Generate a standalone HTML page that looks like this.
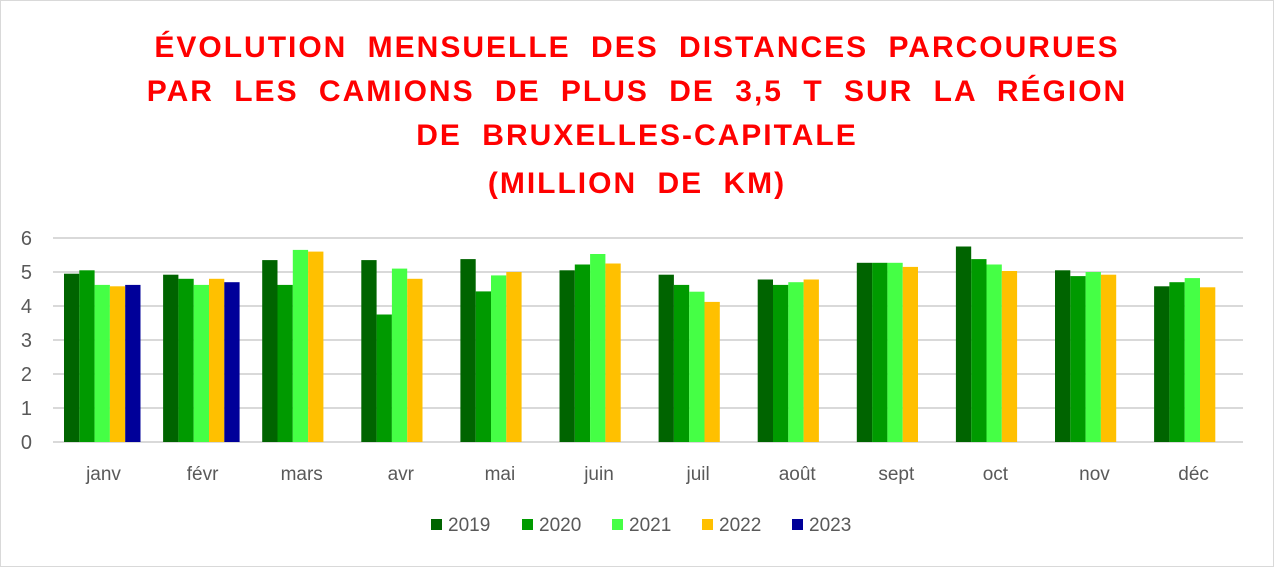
<!DOCTYPE html>
<html><head><meta charset="utf-8"><style>
html,body{margin:0;padding:0;background:#fff}
svg{display:block}
text{font-family:"Liberation Sans",sans-serif}
</style></head><body>
<svg width="1274" height="567" viewBox="0 0 1274 567" xmlns="http://www.w3.org/2000/svg">
<rect x="0.5" y="0.5" width="1273" height="566" fill="#fff" stroke="#d9d9d9"/>
<g fill="#ff0000" font-weight="bold" font-size="30" text-anchor="middle" letter-spacing="2" word-spacing="10">
<text x="637" y="57">ÉVOLUTION MENSUELLE DES DISTANCES PARCOURUES</text>
<text x="637" y="101">PAR LES CAMIONS DE PLUS DE 3,5 T SUR LA RÉGION</text>
<text x="637" y="145">DE BRUXELLES-CAPITALE</text>
<text x="637" y="193">(MILLION DE KM)</text>
</g>
<g stroke="#d9d9d9" stroke-width="2">
<line x1="53" x2="1243" y1="238" y2="238"/><line x1="53" x2="1243" y1="272" y2="272"/>
<line x1="53" x2="1243" y1="306" y2="306"/><line x1="53" x2="1243" y1="340" y2="340"/>
<line x1="53" x2="1243" y1="374" y2="374"/><line x1="53" x2="1243" y1="408" y2="408"/>
<line x1="53" x2="1243" y1="442" y2="442"/>
</g>
<g fill="#595959" font-size="20" text-anchor="end">
<text x="32" y="245">6</text><text x="32" y="279">5</text><text x="32" y="313">4</text>
<text x="32" y="347">3</text><text x="32" y="381">2</text><text x="32" y="415">1</text><text x="32" y="449">0</text>
</g>
<g fill="#006400">
<rect x="64" y="273.7" width="15.3" height="168.3"/>
<rect x="163.1" y="274.7" width="15.3" height="167.3"/>
<rect x="262.2" y="260.1" width="15.3" height="181.9"/>
<rect x="361.3" y="260.1" width="15.3" height="181.9"/>
<rect x="460.4" y="259.1" width="15.3" height="182.9"/>
<rect x="559.5" y="270.3" width="15.3" height="171.7"/>
<rect x="658.6" y="274.7" width="15.3" height="167.3"/>
<rect x="757.7" y="279.5" width="15.3" height="162.5"/>
<rect x="856.8" y="262.8" width="15.3" height="179.2"/>
<rect x="955.9" y="246.5" width="15.3" height="195.5"/>
<rect x="1055" y="270.3" width="15.3" height="171.7"/>
<rect x="1154.1" y="286.3" width="15.3" height="155.7"/>
</g>
<g fill="#009a00">
<rect x="79.3" y="270.3" width="15.3" height="171.7"/>
<rect x="178.4" y="278.8" width="15.3" height="163.2"/>
<rect x="277.5" y="284.9" width="15.3" height="157.1"/>
<rect x="376.6" y="314.5" width="15.3" height="127.5"/>
<rect x="475.7" y="291.4" width="15.3" height="150.6"/>
<rect x="574.8" y="264.5" width="15.3" height="177.5"/>
<rect x="673.9" y="284.9" width="15.3" height="157.1"/>
<rect x="773" y="284.9" width="15.3" height="157.1"/>
<rect x="872.1" y="262.8" width="15.3" height="179.2"/>
<rect x="971.2" y="259.1" width="15.3" height="182.9"/>
<rect x="1070.3" y="276.1" width="15.3" height="165.9"/>
<rect x="1169.4" y="282.2" width="15.3" height="159.8"/>
</g>
<g fill="#45ff45">
<rect x="94.6" y="284.9" width="15.3" height="157.1"/>
<rect x="193.7" y="284.9" width="15.3" height="157.1"/>
<rect x="292.8" y="249.9" width="15.3" height="192.1"/>
<rect x="391.9" y="268.6" width="15.3" height="173.4"/>
<rect x="491" y="275.4" width="15.3" height="166.6"/>
<rect x="590.1" y="254" width="15.3" height="188"/>
<rect x="689.2" y="291.7" width="15.3" height="150.3"/>
<rect x="788.3" y="282.2" width="15.3" height="159.8"/>
<rect x="887.4" y="262.8" width="15.3" height="179.2"/>
<rect x="986.5" y="264.5" width="15.3" height="177.5"/>
<rect x="1085.6" y="272" width="15.3" height="170"/>
<rect x="1184.7" y="278.1" width="15.3" height="163.9"/>
</g>
<g fill="#ffc000">
<rect x="109.9" y="286.3" width="15.3" height="155.7"/>
<rect x="209" y="278.8" width="15.3" height="163.2"/>
<rect x="308.1" y="251.6" width="15.3" height="190.4"/>
<rect x="407.2" y="278.8" width="15.3" height="163.2"/>
<rect x="506.3" y="272" width="15.3" height="170"/>
<rect x="605.4" y="263.5" width="15.3" height="178.5"/>
<rect x="704.5" y="301.9" width="15.3" height="140.1"/>
<rect x="803.6" y="279.5" width="15.3" height="162.5"/>
<rect x="902.7" y="266.9" width="15.3" height="175.1"/>
<rect x="1001.8" y="271" width="15.3" height="171"/>
<rect x="1100.9" y="274.7" width="15.3" height="167.3"/>
<rect x="1200" y="287.3" width="15.3" height="154.7"/>
</g>
<g fill="#000099">
<rect x="125.2" y="284.9" width="15.3" height="157.1"/>
<rect x="224.3" y="282.2" width="15.3" height="159.8"/>
</g>
<g fill="#595959" font-size="19" text-anchor="middle">
<text x="103.5" y="480">janv</text><text x="202.6" y="480">févr</text><text x="301.7" y="480">mars</text>
<text x="400.8" y="480">avr</text><text x="499.9" y="480">mai</text><text x="599" y="480">juin</text>
<text x="698.1" y="480">juil</text><text x="797.2" y="480">août</text><text x="896.3" y="480">sept</text>
<text x="995.4" y="480">oct</text><text x="1094.5" y="480">nov</text><text x="1193.6" y="480">déc</text>
</g>
<g font-size="19" fill="#595959">
<rect x="431" y="519" width="11" height="11" fill="#006400"/><text x="448" y="531">2019</text>
<rect x="522" y="519" width="11" height="11" fill="#009a00"/><text x="539" y="531">2020</text>
<rect x="612" y="519" width="11" height="11" fill="#45ff45"/><text x="629" y="531">2021</text>
<rect x="702" y="519" width="11" height="11" fill="#ffc000"/><text x="719" y="531">2022</text>
<rect x="792" y="519" width="11" height="11" fill="#000099"/><text x="809" y="531">2023</text>
</g>
</svg>
</body></html>
